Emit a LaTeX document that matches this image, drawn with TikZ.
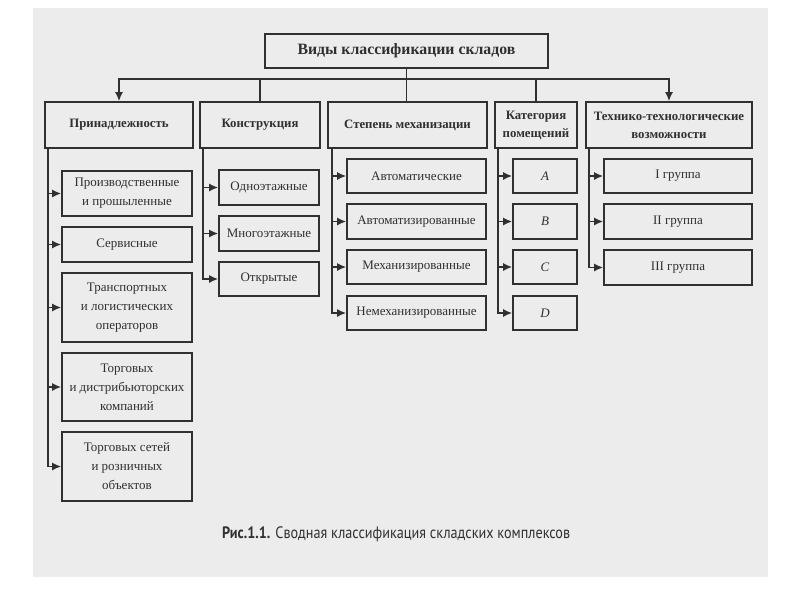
\documentclass[tikz,border=0pt]{standalone}
\usepackage{fontspec}
\setmainfont{Liberation Serif}
\newfontfamily\capfont{PT Sans}[FakeStretch=0.86]
\usetikzlibrary{arrows.meta,calc}
\definecolor{ink}{HTML}{303030}
\definecolor{paper}{HTML}{ECECEC}
\begin{document}
\begin{tikzpicture}[x=1pt,y=-1pt,
  box/.style={draw=ink,line width=1.6pt,inner sep=0pt,text=ink,align=center},
  titlebox/.style={box,font=\fontsize{15.8}{18}\selectfont\bfseries},
  headbox/.style={box,font=\fontsize{12.8}{18}\selectfont\bfseries},
  itembox/.style={box,font=\fontsize{13}{19}\selectfont},
  conn/.style={draw=ink,line width=1.6pt},
  arr/.style={conn,-{Latex[length=9pt,width=8pt]}}]
\useasboundingbox (0,0) rectangle (800,600);
\fill[white] (0,0) rectangle (800,600);
\fill[paper] (33,8) rectangle (768,577);
% top
\node[titlebox,minimum width=283pt,minimum height=34pt] (top) at (406.5,51) {Виды классификации складов};
% level 1
\node[headbox,minimum width=148pt,minimum height=46pt] (P) at (119,125) {Принадлежность};
\node[headbox,minimum width=120pt,minimum height=46pt] (K) at (260,125) {Конструкция};
\node[headbox,minimum width=159pt,minimum height=46pt] (S) at (407.5,125) {Степень механизации};
\node[headbox,minimum width=82pt,minimum height=46pt] (C) at (536,125) {Категория\\помещений};
\node[headbox,minimum width=166pt,minimum height=46pt] (T) at (669,125) {Технико-технологические\\возможности};
\coordinate (bus) at (0,79);
\draw[conn] (top.south) -- (top.south |- S.north);
\draw[arr] (top.south |- bus) -| (P.north);
\draw[arr] (top.south |- bus) -| (T.north);
\draw[conn] (K.north |- bus) -- (K.north);
\draw[conn] (C.north |- bus) -- (C.north);
% P column
\node[itembox,minimum width=130pt,minimum height=45pt] (p1) at (127,193.5) {Производственные\\и прошыленные};
\node[itembox,minimum width=130pt,minimum height=35pt] (p2) at (127,244.5) {Сервисные};
\node[itembox,minimum width=130pt,minimum height=69pt] (p3) at (127,307.5) {Транспортных\\и логистических\\операторов};
\node[itembox,minimum width=130pt,minimum height=68pt] (p4) at (127,387) {Торговых\\и дистрибьюторских\\компаний};
\node[itembox,minimum width=130pt,minimum height=69pt] (p5) at (127,466.5) {Торговых сетей\\и розничных\\объектов};
\coordinate (pv) at ($(P.south west)+(4,0)$);
\draw[arr] (pv) |- (p5.west);
\foreach \n in {p1,p2,p3,p4} \draw[arr] (pv |- \n.west) -- (\n.west);
% K column
\node[itembox,minimum width=100pt,minimum height=35pt] (k1) at (269,187.5) {Одноэтажные};
\node[itembox,minimum width=100pt,minimum height=35pt] (k2) at (269,233.5) {Многоэтажные};
\node[itembox,minimum width=100pt,minimum height=34pt] (k3) at (269,279) {Открытые};
\coordinate (kv) at ($(K.south west)+(4,0)$);
\draw[arr] (kv) |- (k3.west);
\foreach \n in {k1,k2} \draw[arr] (kv |- \n.west) -- (\n.west);
% S column
\node[itembox,minimum width=139pt,minimum height=34pt] (s1) at (416.5,176) {Автоматические};
\node[itembox,minimum width=139pt,minimum height=35pt] (s2) at (416.5,221.5) {Автоматизированные};
\node[itembox,minimum width=139pt,minimum height=34pt] (s3) at (416.5,267) {Механизированные};
\node[itembox,minimum width=139pt,minimum height=34pt] (s4) at (416.5,313) {Немеханизированные};
\coordinate (sv) at ($(S.south west)+(5,0)$);
\draw[arr] (sv) |- (s4.west);
\foreach \n in {s1,s2,s3} \draw[arr] (sv |- \n.west) -- (\n.west);
% C column
\node[itembox,minimum width=64pt,minimum height=34pt] (c1) at (545,176) {\itshape A};
\node[itembox,minimum width=64pt,minimum height=35pt] (c2) at (545,221.5) {\itshape B};
\node[itembox,minimum width=64pt,minimum height=34pt] (c3) at (545,267) {\itshape C};
\node[itembox,minimum width=64pt,minimum height=34pt] (c4) at (545,313) {\itshape D};
\coordinate (cv) at ($(C.south west)+(4,0)$);
\draw[arr] (cv) |- (c4.west);
\foreach \n in {c1,c2,c3} \draw[arr] (cv |- \n.west) -- (\n.west);
% T column
\node[itembox,minimum width=148pt,minimum height=34pt] (t1) at (678,176) {I группа};
\node[itembox,minimum width=148pt,minimum height=35pt] (t2) at (678,221.5) {II группа};
\node[itembox,minimum width=148pt,minimum height=35pt] (t3) at (678,267.5) {III группа};
\coordinate (tv) at ($(T.south west)+(4,0)$);
\draw[arr] (tv) |- (t3.west);
\foreach \n in {t1,t2} \draw[arr] (tv |- \n.west) -- (\n.west);
% caption
\node[anchor=west,inner sep=0pt,text=ink,font=\capfont\fontsize{16.5}{19}\selectfont] (cap) at (222,534) {\textbf{Рис.1.1.} Сводная классификация складских комплексов};
\end{tikzpicture}
\end{document}
